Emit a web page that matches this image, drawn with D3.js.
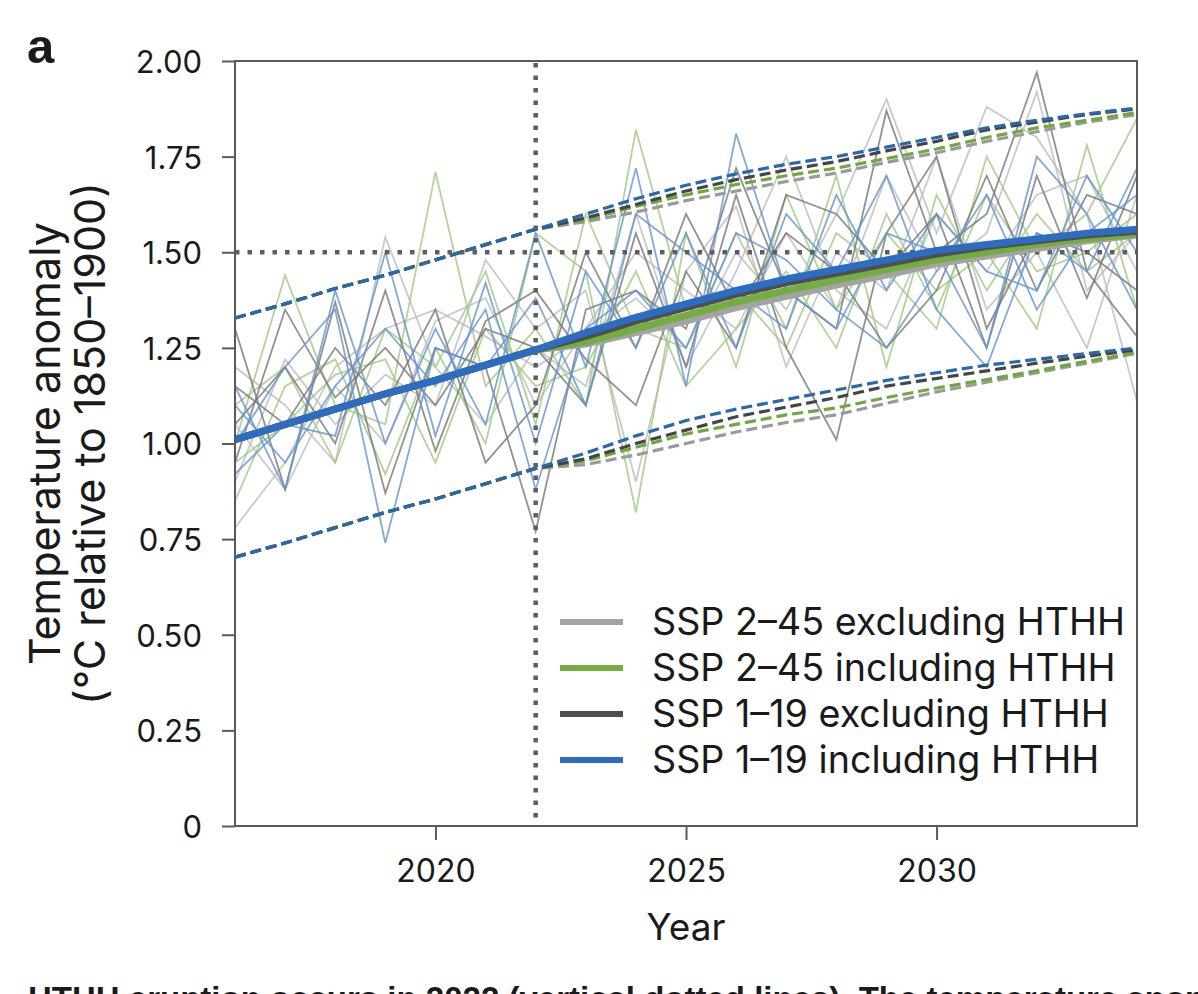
<!DOCTYPE html>
<html>
<head>
<meta charset="utf-8">
<script src="https://cdn.jsdelivr.net/npm/d3@7"></script>
<style>
  html, body { margin: 0; padding: 0; background: #fff; }
  svg { display: block; }
  text { font-family: Inter, "Liberation Sans", sans-serif; fill: #1a1a1a; }
</style>
</head>
<body>
<svg id="chart" width="1198" height="994"></svg>
<script>
// years on the x axis
const years = d3.range(2016, 2035);

// ensemble means (thick lines)
const meanSsp245Excl = [1.01, 1.05, 1.09, 1.13, 1.165, 1.205, 1.245, 1.26, 1.29, 1.32, 1.355, 1.385, 1.414, 1.44, 1.47, 1.49, 1.51, 1.53, 1.545];
const meanSsp245Incl = [1.01, 1.05, 1.09, 1.13, 1.165, 1.205, 1.245, 1.265, 1.30, 1.335, 1.37, 1.40, 1.427, 1.455, 1.48, 1.50, 1.52, 1.535, 1.548];
const meanSsp119Excl = [1.01, 1.05, 1.09, 1.13, 1.165, 1.205, 1.245, 1.28, 1.32, 1.355, 1.39, 1.42, 1.445, 1.47, 1.495, 1.515, 1.53, 1.545, 1.555];
const meanSsp119Incl = [1.01, 1.05, 1.09, 1.13, 1.165, 1.205, 1.245, 1.29, 1.33, 1.365, 1.40, 1.43, 1.455, 1.48, 1.505, 1.52, 1.535, 1.55, 1.56];

// upper bounds (dashed)
const upSsp245Excl = [1.328, 1.365, 1.405, 1.44, 1.48, 1.52, 1.56, 1.58, 1.605, 1.635, 1.66, 1.685, 1.707, 1.735, 1.76, 1.79, 1.815, 1.84, 1.86];
const upSsp245Incl = [1.328, 1.365, 1.405, 1.44, 1.48, 1.52, 1.56, 1.585, 1.62, 1.65, 1.677, 1.70, 1.72, 1.745, 1.77, 1.80, 1.825, 1.845, 1.865];
const upSsp119Excl = [1.328, 1.365, 1.405, 1.44, 1.48, 1.52, 1.56, 1.59, 1.625, 1.66, 1.69, 1.715, 1.737, 1.765, 1.79, 1.82, 1.84, 1.86, 1.875];
const upSsp119Incl = [1.328, 1.365, 1.405, 1.44, 1.48, 1.52, 1.56, 1.60, 1.64, 1.675, 1.705, 1.73, 1.75, 1.775, 1.80, 1.825, 1.845, 1.862, 1.877];

// lower bounds (dashed)
const loSsp245Excl = [0.703, 0.74, 0.78, 0.82, 0.855, 0.895, 0.935, 0.945, 0.97, 1.00, 1.03, 1.055, 1.075, 1.105, 1.135, 1.16, 1.185, 1.21, 1.236];
const loSsp245Incl = [0.703, 0.74, 0.78, 0.82, 0.855, 0.895, 0.935, 0.955, 0.99, 1.025, 1.05, 1.075, 1.093, 1.12, 1.145, 1.167, 1.19, 1.215, 1.238];
const loSsp119Excl = [0.703, 0.74, 0.78, 0.82, 0.855, 0.895, 0.935, 0.96, 1.00, 1.035, 1.07, 1.095, 1.12, 1.15, 1.17, 1.19, 1.21, 1.228, 1.245];
const loSsp119Incl = [0.703, 0.74, 0.78, 0.82, 0.855, 0.895, 0.935, 0.975, 1.02, 1.06, 1.09, 1.115, 1.14, 1.165, 1.185, 1.205, 1.22, 1.235, 1.25];

// individual runs (thin lines)
const runsSsp245Excl = [
  [0.78, 0.95, 1.20, 1.30, 1.35, 1.28, 1.20, 1.28, 1.38, 1.25, 1.50, 1.35, 1.60, 1.90, 1.55, 1.88, 1.80, 1.60, 1.11],
  [1.05, 0.88, 1.15, 1.00, 1.32, 1.38, 1.10, 1.30, 1.50, 1.40, 1.30, 1.55, 1.35, 1.70, 1.45, 1.55, 1.92, 1.40, 1.55],
  [1.20, 1.10, 0.95, 1.54, 1.20, 1.05, 1.25, 1.15, 1.60, 1.20, 1.45, 1.75, 1.40, 1.30, 1.60, 1.45, 1.65, 1.70, 1.45],
  [0.90, 1.22, 1.05, 1.18, 1.10, 1.48, 1.30, 1.40, 0.90, 1.45, 1.62, 1.20, 1.50, 1.40, 1.75, 1.35, 1.50, 1.25, 1.65]
];
const runsSsp245Incl = [
  [1.00, 1.44, 1.10, 1.05, 1.71, 1.15, 1.30, 1.10, 1.82, 1.35, 1.40, 1.25, 1.55, 1.45, 1.30, 1.75, 1.50, 1.60, 1.85],
  [0.85, 1.15, 1.22, 0.92, 1.25, 1.00, 1.55, 1.45, 0.82, 1.55, 1.20, 1.65, 1.35, 1.55, 1.40, 1.50, 1.30, 1.78, 1.35],
  [1.10, 1.20, 0.95, 1.30, 1.20, 1.45, 1.05, 1.60, 1.30, 1.25, 1.55, 1.30, 1.70, 1.20, 1.65, 1.40, 1.60, 1.45, 1.55],
  [0.95, 1.05, 1.18, 1.22, 0.95, 1.30, 1.15, 1.20, 1.45, 1.15, 1.30, 1.45, 1.25, 1.60, 1.35, 1.65, 1.45, 1.50, 1.60]
];
const runsSsp119Excl = [
  [1.30, 0.88, 1.37, 0.87, 1.25, 1.20, 0.77, 1.35, 1.40, 1.30, 1.72, 1.40, 1.30, 1.87, 1.50, 1.60, 1.97, 1.45, 1.28],
  [0.95, 1.35, 1.12, 1.25, 1.10, 1.30, 1.25, 1.10, 1.55, 1.20, 1.65, 1.25, 1.01, 1.55, 1.75, 1.30, 1.55, 1.50, 1.40],
  [1.15, 1.05, 1.25, 1.10, 1.35, 0.95, 1.10, 1.50, 1.25, 1.60, 1.35, 1.55, 1.45, 1.25, 1.40, 1.70, 1.40, 1.65, 1.60],
  [1.05, 1.20, 1.00, 1.40, 0.98, 1.32, 1.40, 1.22, 1.10, 1.45, 1.25, 1.65, 1.60, 1.45, 1.60, 1.25, 1.70, 1.38, 1.70]
];
const runsSsp119Incl = [
  [1.15, 0.88, 1.40, 1.00, 1.30, 1.05, 1.55, 1.20, 1.72, 1.15, 1.81, 1.40, 1.30, 1.55, 1.50, 1.25, 1.75, 1.60, 1.35],
  [0.92, 1.05, 1.02, 1.50, 1.02, 1.42, 1.00, 1.45, 1.25, 1.55, 1.25, 1.60, 1.45, 1.70, 1.35, 1.20, 1.55, 1.45, 1.72],
  [1.00, 1.20, 1.35, 0.74, 1.25, 1.20, 1.38, 1.10, 1.60, 1.50, 1.40, 1.30, 1.65, 1.40, 1.60, 1.45, 1.40, 1.70, 1.50],
  [1.10, 0.95, 1.15, 1.30, 1.15, 1.35, 0.88, 1.30, 1.40, 1.25, 1.55, 1.48, 1.35, 1.25, 1.45, 1.65, 1.35, 1.55, 1.65]
];

const scenarioNames = ['SSP 2\u201345 excluding HTHH', 'SSP 2\u201345 including HTHH', 'SSP 1\u201319 excluding HTHH', 'SSP 1\u201319 including HTHH'];
const yTicks = [0, 0.25, 0.5, 0.75, 1.0, 1.25, 1.5, 1.75, 2.0];
const xTicks = [2020, 2025, 2030];
const eruptionYear = 2022;
const threshold = 1.5;

// styling per scenario
const scenarios = [
  { name: scenarioNames[0], mean: meanSsp245Excl, up: upSsp245Excl, lo: loSsp245Excl, runs: runsSsp245Excl, main: '#a3a3a3', thin: '#bdbdbd', dash: '#9a9a9a' },
  { name: scenarioNames[1], mean: meanSsp245Incl, up: upSsp245Incl, lo: loSsp245Incl, runs: runsSsp245Incl, main: '#74ae40', thin: '#a0c980', dash: '#6fa83c' },
  { name: scenarioNames[2], mean: meanSsp119Excl, up: upSsp119Excl, lo: loSsp119Excl, runs: runsSsp119Excl, main: '#4f4f4f', thin: '#777777', dash: '#454545' },
  { name: scenarioNames[3], mean: meanSsp119Incl, up: upSsp119Incl, lo: loSsp119Incl, runs: runsSsp119Incl, main: '#2c6cc3', thin: '#6394d2', dash: '#2a68ad' }
];

const plotLeft = 235, plotRight = 1137, plotTop = 61, plotBottom = 826;

const svg = d3.select('#chart');

const x = d3.scaleLinear().domain([2016, 2034]).range([plotLeft, plotRight]);
const y = d3.scaleLinear().domain([0, 2]).range([plotBottom, plotTop]);

svg.append('defs').append('clipPath').attr('id', 'plot')
  .append('rect').attr('x', plotLeft).attr('y', plotTop)
  .attr('width', plotRight - plotLeft).attr('height', plotBottom - plotTop);

const line = d3.line().x((d, i) => x(years[i])).y(d => y(d));
const plot = svg.append('g').attr('clip-path', 'url(#plot)');

// thin runs
scenarios.forEach(s => {
  s.runs.forEach(r => {
    plot.append('path').attr('d', line(r))
      .attr('fill', 'none').attr('stroke', s.thin)
      .attr('stroke-width', 1.8).attr('stroke-opacity', 0.8);
  });
});

// reference dotted lines
plot.append('line')
  .attr('x1', plotLeft).attr('x2', plotRight).attr('y1', y(threshold)).attr('y2', y(threshold))
  .attr('stroke', '#5e5e5e').attr('stroke-width', 4.5).attr('stroke-dasharray', '4.5,8');
plot.append('line')
  .attr('x1', x(eruptionYear)).attr('x2', x(eruptionYear)).attr('y1', plotTop + 2).attr('y2', plotBottom)
  .attr('stroke', '#5e5e5e').attr('stroke-width', 4.5).attr('stroke-dasharray', '4.5,8');

// dashed bounds
scenarios.forEach(s => {
  [s.up, s.lo].forEach(b => {
    plot.append('path').attr('d', line(b))
      .attr('fill', 'none').attr('stroke', s.dash)
      .attr('stroke-width', 3.2).attr('stroke-dasharray', '11,5');
  });
});

// means
scenarios.forEach(s => {
  plot.append('path').attr('d', line(s.mean))
    .attr('fill', 'none').attr('stroke', s.main)
    .attr('stroke-width', 7).attr('stroke-linecap', 'round');
});

// frame
svg.append('rect')
  .attr('x', plotLeft).attr('y', plotTop).attr('width', plotRight - plotLeft).attr('height', plotBottom - plotTop)
  .attr('fill', 'none').attr('stroke', '#5a5a5a').attr('stroke-width', 2);

// Y axis
const yAxis = svg.append('g')
  .attr('transform', 'translate(' + plotLeft + ',0)')
  .call(d3.axisLeft(y).tickValues(yTicks).tickSize(13).tickPadding(20)
    .tickFormat(d => d === 0 ? '0' : d3.format('.2f')(d)));
yAxis.select('.domain').remove();
yAxis.selectAll('line').attr('stroke', '#5a5a5a').attr('stroke-width', 2);
yAxis.selectAll('text').attr('font-size', 31).attr('fill', '#1a1a1a').attr('dy', '0.37em')
  .style('font-family', 'Inter, sans-serif');

// X axis
const xAxis = svg.append('g')
  .attr('transform', 'translate(0,' + plotBottom + ')')
  .call(d3.axisBottom(x).tickValues(xTicks).tickSize(14).tickFormat(d3.format('d')));
xAxis.select('.domain').remove();
xAxis.selectAll('line').attr('stroke', '#5a5a5a').attr('stroke-width', 2);
xAxis.selectAll('text').attr('font-size', 32).attr('fill', '#1a1a1a').attr('y', 56).attr('dy', 0)
  .style('font-family', 'Inter, sans-serif');

// axis titles
svg.append('text').attr('x', x(2025)).attr('y', 940).attr('text-anchor', 'middle')
  .attr('font-size', 37).text('Year');
const yt = svg.append('g').attr('transform', 'translate(0,' + ((plotTop + plotBottom) / 2) + ') rotate(-90)');
yt.append('text').attr('x', 0).attr('y', 60).attr('text-anchor', 'middle').attr('font-size', 43).text('Temperature anomaly');
yt.append('text').attr('x', 0).attr('y', 105).attr('text-anchor', 'middle').attr('font-size', 43).text('(\u00b0C relative to 1850\u20131900)');

// panel letter
svg.append('text').attr('x', 27).attr('y', 63).attr('font-size', 49).attr('font-weight', 'bold')
  .style('font-family', '"Liberation Sans", Arial, sans-serif').text('a');

// legend
const legend = svg.append('g');
scenarios.forEach((s, i) => {
  const ly = 622 + i * 46;
  legend.append('line').attr('x1', 560).attr('x2', 623).attr('y1', ly).attr('y2', ly)
    .attr('stroke', s.main).attr('stroke-width', 6);
  legend.append('text').attr('x', 652).attr('y', ly + 13).attr('font-size', 37.7).text(s.name);
});

// caption fragment, cut off by the bottom edge as in the source image
svg.append('text').attr('x', 28).attr('y', 1010).attr('font-size', 33).attr('font-weight', 'bold')
  .style('font-family', '"Liberation Sans", Arial, sans-serif')
  .text('HTHH eruption occurs in 2022 (vertical dotted lines). The temperature anomaly');
</script>
</body>
</html>
